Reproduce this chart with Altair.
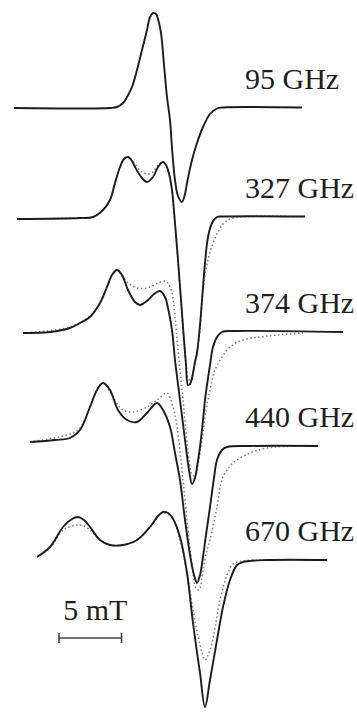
import altair as alt
import pandas as pd

# High-field EPR spectra at five frequencies, stacked vertically.
# Field in mT, signal in arbitrary units measured from each spectrum's baseline.
FREQS = ["95 GHz", "327 GHz", "374 GHz", "440 GHz", "670 GHz"]
OFFSETS = [605.5, 496.5, 381.0, 267.0, 153.0]  # vertical stacking offsets (arb. u.)

# experimental traces (solid)
exp_field = {
    "95 GHz": [1.12, 8.8, 9.36, 9.84, 10.16, 10.56, 10.96, 11.36, 11.76, 12.0, 12.24, 12.48,
               12.64, 12.88, 13.12, 13.36, 13.6, 13.76, 14.0, 14.24, 14.56, 14.8, 14.96, 15.36,
               15.76, 16.24, 16.8, 17.36, 17.84, 24.16],
    "327 GHz": [1.36, 6.4, 7.44, 8.24, 8.8, 9.2, 9.6, 9.92, 10.24, 10.56, 10.8, 11.36, 11.76,
                12.24, 12.64, 13.04, 13.28, 13.44, 13.6, 13.76, 14.0, 14.24, 14.48, 14.72, 14.88,
                15.04, 15.2, 15.36, 15.6, 15.76, 16.0, 16.16, 16.4, 16.64, 16.96, 17.36, 17.84, 24.4],
    "374 GHz": [1.84, 4.0, 5.6, 6.4, 7.2, 8.0, 8.56, 8.96, 9.36, 9.76, 10.24, 10.8, 11.2, 11.84,
                12.32, 12.8, 13.2, 13.44, 13.76, 14.0, 14.4, 14.8, 15.12, 15.36, 15.6, 15.76, 16.0,
                16.24, 16.4, 16.56, 16.8, 17.04, 17.36, 17.76, 18.8, 27.44],
    "440 GHz": [2.4, 4.4, 5.6, 6.4, 7.2, 7.76, 8.24, 8.8, 9.44, 10.16, 10.96, 11.76, 12.56, 13.04,
                13.6, 14.0, 14.4, 14.8, 15.2, 15.52, 15.76, 16.0, 16.24, 16.48, 16.8, 17.12, 17.36,
                17.76, 18.16, 20.0, 25.44],
    "670 GHz": [2.96, 4.0, 5.04, 5.76, 6.24, 6.72, 7.2, 8.0, 8.8, 9.84, 10.96, 12.0, 12.64, 13.04,
                13.44, 13.76, 14.4, 14.96, 15.44, 16.0, 16.4, 16.8, 17.36, 17.84, 18.4, 18.96, 19.44,
                21.36, 26.16],
}
exp_signal = {
    "95 GHz": [-0.5, -0.5, 0.5, 4.5, 10.5, 20.5, 37.5, 57.5, 77.5, 90.5, 94.5, 93.5, 88.5, 74.5,
               42.5, 10.5, -12.5, -40.5, -72.5, -88.5, -94.5, -86.5, -75.5, -52.5, -35.5, -19.5,
               -6.5, -1.0, 0, 0],
    "327 GHz": [-2.5, -1.5, -0.5, 6.5, 16.5, 33.5, 49.5, 57.5, 59.5, 55.5, 49.5, 38.5, 34.5, 39.5,
                49.5, 54.5, 51.5, 46.5, 38.5, 26.5, -6.5, -43.5, -83.5, -123.5, -148.5, -168.5,
                -167.5, -161.5, -145.5, -136.5, -108.5, -83.5, -46.5, -20.5, -6.5, -0.5, 0, 0],
    "374 GHz": [-1, 0, 4, 9, 15, 29, 45, 57, 62, 57, 42, 30, 27, 32, 38, 41, 35, 24, 2, -28, -68,
                -108, -138, -152, -146, -135, -115, -88, -68, -53, -33, -15, -5, 0, 1, 0],
    "440 GHz": [4, 6, 8, 16, 39, 56, 63, 56, 36, 26, 24, 33, 43, 36, 19, -7, -34, -74, -109, -129,
                -137, -129, -111, -89, -61, -32, -14, -4, -1, 0, 0],
    "670 GHz": [3, 13, 33, 41, 43, 40, 33, 20, 15, 15, 20, 33, 44, 48, 47, 43, 23, -13, -63, -113,
                -147, -120, -80, -47, -20, -5, -2, 0, 0],
}

# simulated traces (dotted)
sim_field = {
    "327 GHz": [1.36, 6.4, 7.44, 8.24, 8.8, 9.2, 9.6, 9.92, 10.24, 10.56, 10.8, 11.36, 11.84,
                12.24, 12.64, 13.04, 13.28, 13.44, 13.6, 13.76, 14.0, 14.24, 14.48, 14.72, 14.88,
                15.04, 15.28, 15.52, 15.76, 16.0, 16.24, 16.48, 16.72, 17.04, 17.44, 17.84, 18.24,
                18.8, 20.0, 24.4],
    "374 GHz": [1.84, 5.6, 7.2, 8.0, 8.56, 8.96, 9.36, 9.76, 10.24, 10.96, 11.76, 12.64, 13.2,
                13.44, 13.76, 14.0, 14.24, 14.64, 15.04, 15.36, 15.6, 15.84, 16.16, 16.48, 16.8,
                17.2, 17.76, 18.4, 19.44, 20.8, 22.16, 24.24],
    "440 GHz": [2.4, 5.6, 6.4, 7.2, 7.76, 8.24, 8.8, 9.44, 9.84, 10.64, 11.76, 12.56, 13.36, 13.84,
                14.16, 14.56, 14.96, 15.36, 15.68, 15.92, 16.24, 16.56, 16.8, 17.36, 17.84, 18.64,
                20.0, 21.36, 24.0],
    "670 GHz": [2.96, 4.0, 5.04, 5.76, 6.24, 6.72, 7.2, 8.0, 8.8, 9.84, 10.96, 12.0, 13.04, 13.76,
                14.4, 14.96, 15.44, 16.0, 16.4, 16.8, 17.2, 17.6, 18.16, 18.64, 19.44, 21.36, 26.16],
}
sim_signal = {
    "327 GHz": [-2.5, -1.5, -0.5, 6.5, 16.5, 33.5, 49.5, 57.5, 59.5, 56.5, 52.5, 44.5, 42.5, 44.5,
                51.5, 54.5, 51.5, 46.5, 38.5, 26.5, -6.5, -43.5, -83.5, -123.5, -145.5, -161.5,
                -164.5, -151.5, -135.5, -113.5, -73.5, -53.5, -39.5, -26.5, -15.5, -7.5, -3.5, -1,
                0, 0],
    "374 GHz": [-1, 5, 16, 29, 45, 57, 62, 56, 49, 44, 44, 49, 51, 49, 39, 15, -18, -68, -118, -142,
                -144, -133, -108, -78, -58, -38, -25, -15, -8, -5, -3, -1],
    "440 GHz": [4, 12, 18, 39, 56, 63, 54, 41, 36, 34, 39, 46, 53, 39, 19, -24, -74, -119, -142,
                -144, -124, -104, -94, -61, -31, -17, -7, -2, 0],
    "670 GHz": [3, 12, 30, 34, 35, 34, 30, 20, 15, 15, 20, 33, 47, 42, 20, -13, -50, -85, -100, -90,
                -68, -40, -15, -4, -1, 0, 0],
}

# 5 mT scale bar
BAR_START = 4.72
BAR_LENGTH = 5.0
BAR_LEVEL = 75.0
BAR_LABEL = "5 mT"

LABEL_FIELD = 19.6
LABEL_RISE = 19.0

FIELD_DOMAIN = [0, 28.56]
SIGNAL_DOMAIN = [0, 713]


def long_table(fields, signals):
    rows = []
    for name, off in zip(FREQS, OFFSETS):
        if name not in fields:
            continue
        for i, (f, s) in enumerate(zip(fields[name], signals[name])):
            rows.append({"freq": name, "idx": i, "field": f, "y": off + s})
    return pd.DataFrame(rows)


exp_df = long_table(exp_field, exp_signal)
sim_df = long_table(sim_field, sim_signal)
labels_df = pd.DataFrame({"freq": FREQS, "field": [LABEL_FIELD] * len(FREQS),
                          "y": [o + LABEL_RISE for o in OFFSETS]})
bar_df = pd.DataFrame({"x": [BAR_START], "x2": [BAR_START + BAR_LENGTH], "y": [BAR_LEVEL]})
bar_ends_df = pd.DataFrame({"x": [BAR_START, BAR_START + BAR_LENGTH],
                            "y": [BAR_LEVEL - 5, BAR_LEVEL - 5],
                            "y2": [BAR_LEVEL + 5, BAR_LEVEL + 5]})
bar_text_df = pd.DataFrame({"x": [BAR_START + BAR_LENGTH / 2], "y": [BAR_LEVEL + 18],
                            "t": [BAR_LABEL]})

xs = alt.Scale(domain=FIELD_DOMAIN, nice=False, zero=False)
ys = alt.Scale(domain=SIGNAL_DOMAIN, nice=False, zero=False)

sim = alt.Chart(sim_df).mark_line(
    interpolate="catmull-rom", color="#7a7a7a", strokeWidth=1.5, strokeDash=[1.5, 2.5]
).encode(
    x=alt.X("field:Q", scale=xs, axis=None),
    y=alt.Y("y:Q", scale=ys, axis=None),
    detail="freq:N",
    order="idx:Q",
)

exp = alt.Chart(exp_df).mark_line(
    interpolate="catmull-rom", color="#1c1c1c", strokeWidth=1.9
).encode(
    x=alt.X("field:Q", scale=xs, axis=None),
    y=alt.Y("y:Q", scale=ys, axis=None),
    detail="freq:N",
    order="idx:Q",
)

labels = alt.Chart(labels_df).mark_text(
    font="Liberation Serif", fontSize=30, align="left", baseline="alphabetic", color="#1e1e1e"
).encode(
    x=alt.X("field:Q", scale=xs, axis=None),
    y=alt.Y("y:Q", scale=ys, axis=None),
    text="freq:N",
)

bar = alt.Chart(bar_df).mark_rule(color="#444444", strokeWidth=1.6).encode(
    x=alt.X("x:Q", scale=xs, axis=None), x2="x2:Q",
    y=alt.Y("y:Q", scale=ys, axis=None),
)
bar_ends = alt.Chart(bar_ends_df).mark_rule(color="#444444", strokeWidth=1.6).encode(
    x=alt.X("x:Q", scale=xs, axis=None),
    y=alt.Y("y:Q", scale=ys, axis=None), y2="y2:Q",
)
bar_text = alt.Chart(bar_text_df).mark_text(
    font="Liberation Serif", fontSize=30, align="center", baseline="alphabetic",
    color="#1e1e1e", dx=5
).encode(
    x=alt.X("x:Q", scale=xs, axis=None),
    y=alt.Y("y:Q", scale=ys, axis=None),
    text="t:N",
)

chart = alt.layer(sim, exp, labels, bar, bar_ends, bar_text).properties(
    width=357, height=713, padding=0, autosize=alt.AutoSizeParams(type="none")
).configure_view(stroke=None)

chart.save("out.html", embed_options={"renderer": "svg", "actions": False})
